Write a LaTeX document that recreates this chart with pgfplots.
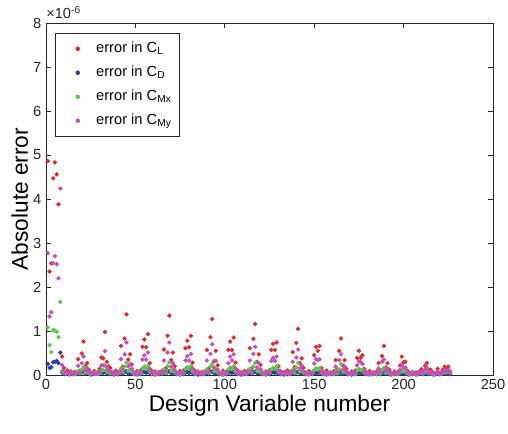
\documentclass[border=0pt]{standalone}
\usepackage{pgfplots}
\usepackage{pgfplotstable}
\pgfplotsset{compat=1.18}
\usepackage{fontspec}
\setmainfont{Liberation Sans}

\definecolor{cL}{RGB}{228,42,42}
\definecolor{cD}{RGB}{43,63,158}
\definecolor{cMx}{RGB}{91,200,74}
\definecolor{cMy}{RGB}{198,78,192}
\definecolor{axgray}{RGB}{38,38,38}

% x  CL  CD  CMx  CMy   (values in units of 1e-6)
\pgfplotstableread{
x r b g m
1 4.86 0.25 1.08 2.77
2 2.35 0.16 0.68 1.33
3 2.54 0.18 0.52 1.43
4 4.47 0.29 1.02 2.54
5 4.83 0.30 1.01 2.70
6 4.56 0.32 0.98 2.52
7 3.88 0.27 0.86 2.20
8 7.40 0.51 1.66 4.24
9 0.42 0.06 0.10 0.23
10 0.16 0.03 0.05 0.09
11 0.06 0.02 0.03 0.04
12 0.10 0.04 0.06 0.06
13 0.04 0.01 0.02 0.03
14 0.08 0.03 0.04 0.05
15 0.03 0.02 0.05 0.02
16 0.07 0.04 0.02 0.04
17 0.05 0.02 0.03 0.03
18 0.36 0.05 0.09 0.21
19 0.10 0.02 0.04 0.06
20 0.49 0.06 0.12 0.27
21 0.76 0.07 0.18 0.42
22 0.20 0.04 0.06 0.11
23 0.27 0.05 0.08 0.15
24 0.12 0.03 0.04 0.07
25 0.05 0.01 0.02 0.03
26 0.03 0.02 0.06 0.05
27 0.09 0.04 0.03 0.04
28 0.04 0.02 0.05 0.02
29 0.06 0.03 0.02 0.05
30 0.14 0.04 0.05 0.08
31 0.40 0.06 0.10 0.22
32 0.38 0.05 0.11 0.22
33 0.98 0.08 0.22 0.54
34 0.30 0.04 0.08 0.17
35 0.20 0.03 0.06 0.11
36 0.16 0.02 0.04 0.09
37 0.07 0.04 0.07 0.04
38 0.04 0.01 0.02 0.03
39 0.10 0.03 0.05 0.06
40 0.05 0.02 0.03 0.02
41 0.08 0.04 0.06 0.05
42 0.66 0.06 0.15 0.36
43 0.19 0.03 0.06 0.11
44 0.83 0.07 0.19 0.47
45 1.38 0.09 0.28 0.74
46 0.35 0.04 0.09 0.20
47 0.47 0.05 0.12 0.24
48 0.24 0.03 0.07 0.14
49 0.06 0.02 0.03 0.04
50 0.03 0.04 0.05 0.02
51 0.09 0.01 0.02 0.06
52 0.05 0.03 0.06 0.03
53 0.11 0.02 0.04 0.07
54 0.64 0.06 0.15 0.35
55 0.81 0.07 0.19 0.45
56 0.63 0.05 0.14 0.35
57 0.93 0.08 0.21 0.51
58 0.27 0.04 0.08 0.15
59 0.10 0.02 0.04 0.06
60 0.04 0.03 0.06 0.03
61 0.08 0.01 0.02 0.05
62 0.03 0.04 0.05 0.02
63 0.07 0.02 0.03 0.04
64 0.05 0.03 0.07 0.06
65 0.10 0.02 0.04 0.05
66 0.58 0.05 0.13 0.33
67 0.15 0.03 0.05 0.09
68 0.89 0.07 0.20 0.51
69 1.35 0.09 0.29 0.74
70 0.34 0.04 0.09 0.19
71 0.51 0.05 0.12 0.27
72 0.20 0.03 0.06 0.11
73 0.06 0.02 0.03 0.04
74 0.03 0.04 0.05 0.02
75 0.09 0.01 0.02 0.05
76 0.04 0.03 0.06 0.03
77 0.11 0.02 0.04 0.06
78 0.61 0.06 0.14 0.33
79 0.78 0.07 0.18 0.43
80 0.63 0.05 0.15 0.33
81 0.89 0.08 0.21 0.48
82 0.28 0.04 0.08 0.15
83 0.10 0.02 0.04 0.06
84 0.05 0.03 0.02 0.03
85 0.08 0.01 0.06 0.05
86 0.03 0.04 0.03 0.02
87 0.07 0.02 0.05 0.04
88 0.04 0.03 0.02 0.03
89 0.09 0.02 0.07 0.05
90 0.57 0.05 0.13 0.33
91 0.14 0.03 0.05 0.08
92 0.86 0.07 0.19 0.48
93 1.27 0.08 0.25 0.70
94 0.31 0.04 0.08 0.17
95 0.55 0.05 0.13 0.32
96 0.22 0.03 0.06 0.12
97 0.05 0.02 0.03 0.03
98 0.03 0.04 0.05 0.02
99 0.10 0.01 0.02 0.06
100 0.04 0.03 0.06 0.03
101 0.08 0.02 0.04 0.05
102 0.57 0.05 0.13 0.27
103 0.76 0.06 0.17 0.42
104 0.57 0.05 0.14 0.33
105 0.85 0.07 0.20 0.47
106 0.28 0.03 0.08 0.15
107 0.11 0.02 0.04 0.06
108 0.05 0.04 0.02 0.03
109 0.07 0.01 0.06 0.04
110 0.03 0.03 0.03 0.02
111 0.09 0.02 0.05 0.05
112 0.04 0.04 0.02 0.03
113 0.10 0.02 0.07 0.06
114 0.61 0.05 0.14 0.33
115 0.15 0.03 0.05 0.08
116 0.82 0.06 0.19 0.48
117 1.16 0.08 0.28 0.64
118 0.30 0.04 0.09 0.17
119 0.47 0.05 0.12 0.27
120 0.23 0.03 0.06 0.13
121 0.06 0.02 0.03 0.04
122 0.03 0.04 0.05 0.02
123 0.08 0.01 0.02 0.05
124 0.05 0.03 0.06 0.03
125 0.11 0.02 0.04 0.06
126 0.57 0.05 0.13 0.32
127 0.71 0.06 0.16 0.39
128 0.57 0.05 0.14 0.32
129 0.74 0.07 0.20 0.42
130 0.20 0.03 0.07 0.11
131 0.09 0.02 0.04 0.05
132 0.04 0.04 0.02 0.02
133 0.07 0.01 0.05 0.04
134 0.03 0.03 0.03 0.02
135 0.10 0.02 0.06 0.06
136 0.05 0.04 0.02 0.03
137 0.08 0.02 0.04 0.05
138 0.52 0.05 0.12 0.30
139 0.18 0.03 0.05 0.10
140 0.73 0.06 0.17 0.40
141 1.05 0.07 0.28 0.58
142 0.27 0.04 0.08 0.15
143 0.38 0.05 0.11 0.21
144 0.16 0.03 0.05 0.09
145 0.05 0.02 0.03 0.03
146 0.03 0.04 0.06 0.02
147 0.09 0.01 0.02 0.05
148 0.04 0.03 0.05 0.03
149 0.07 0.02 0.03 0.04
150 0.45 0.04 0.11 0.26
151 0.64 0.05 0.15 0.36
152 0.55 0.05 0.13 0.34
153 0.66 0.06 0.16 0.36
154 0.16 0.03 0.06 0.09
155 0.08 0.02 0.03 0.05
156 0.04 0.04 0.05 0.02
157 0.10 0.01 0.02 0.06
158 0.03 0.03 0.06 0.02
159 0.06 0.02 0.03 0.04
160 0.05 0.04 0.04 0.03
161 0.09 0.02 0.02 0.05
162 0.34 0.04 0.09 0.19
163 0.12 0.02 0.04 0.07
164 0.55 0.05 0.13 0.34
165 0.83 0.06 0.25 0.47
166 0.22 0.03 0.07 0.12
167 0.34 0.04 0.09 0.19
168 0.14 0.03 0.05 0.08
169 0.05 0.02 0.02 0.03
170 0.03 0.04 0.04 0.02
171 0.08 0.01 0.03 0.05
172 0.04 0.03 0.05 0.03
173 0.10 0.02 0.02 0.06
174 0.39 0.04 0.10 0.22
175 0.55 0.05 0.14 0.31
176 0.39 0.04 0.11 0.29
177 0.45 0.05 0.12 0.25
178 0.14 0.03 0.05 0.08
179 0.07 0.02 0.03 0.04
180 0.04 0.03 0.04 0.02
181 0.09 0.01 0.02 0.05
182 0.03 0.04 0.05 0.02
183 0.06 0.02 0.03 0.04
184 0.05 0.03 0.04 0.03
185 0.08 0.02 0.02 0.05
186 0.27 0.04 0.07 0.15
187 0.10 0.02 0.03 0.06
188 0.43 0.05 0.11 0.30
189 0.66 0.05 0.16 0.35
190 0.17 0.03 0.05 0.10
191 0.27 0.04 0.08 0.15
192 0.12 0.02 0.04 0.07
193 0.05 0.01 0.02 0.03
194 0.03 0.03 0.05 0.02
195 0.08 0.02 0.03 0.05
196 0.04 0.04 0.04 0.03
197 0.07 0.02 0.02 0.04
198 0.22 0.03 0.06 0.12
199 0.42 0.04 0.11 0.24
200 0.29 0.04 0.08 0.17
201 0.30 0.04 0.09 0.17
202 0.10 0.02 0.04 0.06
203 0.06 0.01 0.02 0.04
204 0.03 0.03 0.04 0.02
205 0.07 0.02 0.03 0.04
206 0.04 0.03 0.05 0.03
207 0.06 0.01 0.02 0.04
208 0.05 0.02 0.03 0.03
209 0.08 0.03 0.04 0.05
210 0.13 0.03 0.05 0.08
211 0.06 0.02 0.03 0.04
212 0.21 0.04 0.07 0.12
213 0.27 0.04 0.09 0.16
214 0.09 0.02 0.04 0.05
215 0.12 0.03 0.05 0.07
216 0.07 0.02 0.03 0.04
217 0.04 0.01 0.02 0.03
218 0.03 0.03 0.04 0.02
219 0.14 0.03 0.06 0.08
220 0.05 0.02 0.02 0.03
221 0.06 0.02 0.03 0.04
222 0.12 0.03 0.05 0.07
223 0.19 0.04 0.08 0.11
224 0.14 0.03 0.06 0.09
225 0.19 0.04 0.09 0.12
226 0.08 0.02 0.04 0.05
}\errtable

\begin{document}
\begin{tikzpicture}
\useasboundingbox (-34.5pt,-43.5pt) rectangle (346.5pt,281.25pt);
\begin{axis}[
    name=ax,
    scale only axis,
    width=335.25pt, height=264pt,
    xmin=0, xmax=250, ymin=0, ymax=8,
    xtick={0,50,100,150,200,250},
    ytick={0,1,2,3,4,5,6,7,8},
    /pgf/number format/assume math mode=true,
    axis line style={axgray, line width=0.6pt},
    every tick/.style={axgray, line width=0.6pt},
    major tick length=3.5pt,
    tick align=inside,
    ticklabel style={font=\fontsize{11}{13}\selectfont, text=axgray},
    label style={font=\fontsize{17}{20}\selectfont, text=black},
    xlabel={Design Variable number},
    ylabel={Absolute error},
    xlabel style={yshift=3pt},
    ylabel style={yshift=-3pt},
    legend style={at={(0.0201,0.9716)}, anchor=north west,
        draw=axgray, line width=0.6pt, fill=white,
        font=\fontsize{11}{13}\selectfont,
        inner sep=3pt,
        nodes={text height=8pt, text depth=3pt, inner sep=3pt},
        row sep=1pt},
    legend cell align=left,
    legend image code/.code={\path (0pt,0pt) (24pt,0pt);
        \fill[#1, draw=none] (13.5pt,0pt) circle (1.7pt);},
]
\addplot[cL, only marks, mark=*, mark size=1.45pt] table[x=x, y=r] {\errtable};
\addlegendentry{error in C\textsubscript{L}}
\addplot[cD, only marks, mark=*, mark size=1.45pt] table[x=x, y=b] {\errtable};
\addlegendentry{error in C\textsubscript{D}}
\addplot[cMx, only marks, mark=*, mark size=1.45pt] table[x=x, y=g] {\errtable};
\addlegendentry{error in C\textsubscript{Mx}}
\addplot[cMy, only marks, mark=*, mark size=1.45pt] table[x=x, y=m] {\errtable};
\addlegendentry{error in C\textsubscript{My}}
\end{axis}
\node[anchor=south west, inner sep=0pt, font=\fontsize{11}{13}\selectfont, text=axgray]
    at ([yshift=3pt]ax.north west) {×10\textsuperscript{-6}};
\end{tikzpicture}
\end{document}
